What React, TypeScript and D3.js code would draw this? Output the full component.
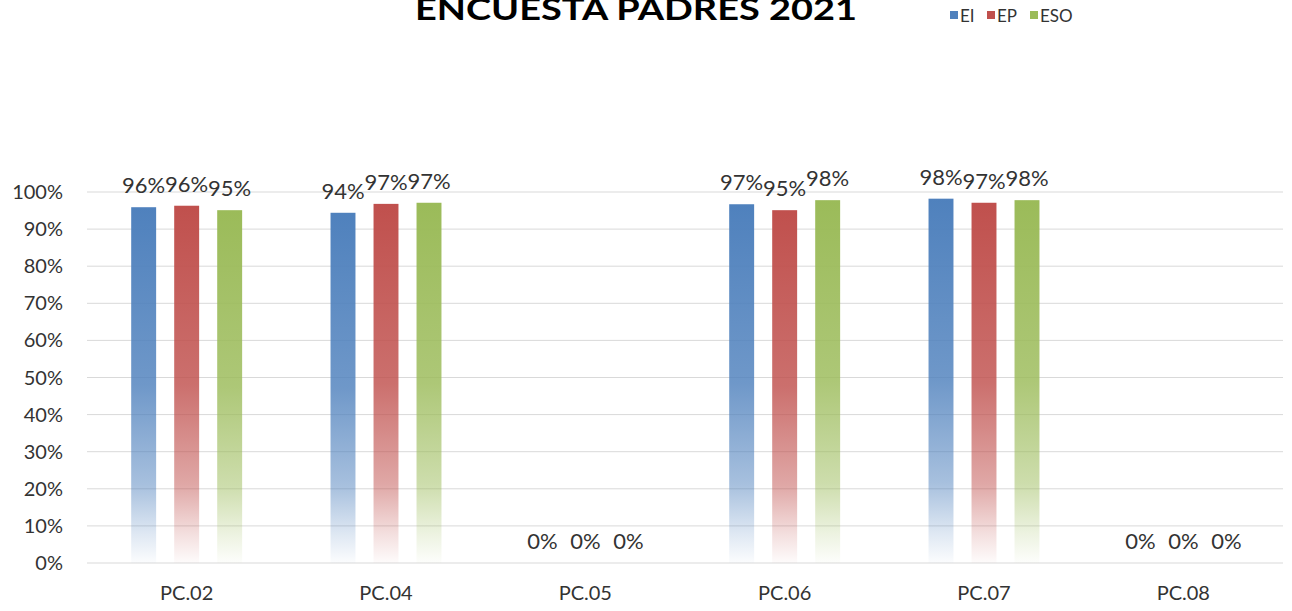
import React from 'react';
import * as d3 from 'd3';

const categories = ['PC.02', 'PC.04', 'PC.05', 'PC.06', 'PC.07', 'PC.08'];
const seriesNames = ['EI', 'EP', 'ESO'];
const eiValues = [0.959, 0.944, 0, 0.967, 0.982, 0];
const epValues = [0.963, 0.968, 0, 0.951, 0.971, 0];
const esoValues = [0.951, 0.971, 0, 0.978, 0.978, 0];
const colors = ['#4f81bd', '#c0504d', '#9bbb59'];
const yTicks = [0, 0.1, 0.2, 0.3, 0.4, 0.5, 0.6, 0.7, 0.8, 0.9, 1];

const width = 1292;
const height = 611;
const margin = { top: 192, right: 9, bottom: 48, left: 87 };
const font = 'Lato, "Open Sans", sans-serif';

const App = () => {
  const seriesValues = [eiValues, epValues, esoValues];

  const x0 = d3
    .scaleBand<string>()
    .domain(categories)
    .range([margin.left, width - margin.right]);

  const x1 = d3
    .scaleBand<string>()
    .domain(seriesNames)
    .range([-64.5, 64.5])
    .paddingInner(0.42)
    .paddingOuter(0.21);

  const y = d3
    .scaleLinear()
    .domain([0, 1])
    .range([height - margin.bottom, margin.top]);

  const pct = d3.format('.0%');

  return (
    <svg
      width={width}
      height={height}
      style={{ position: 'absolute', left: 0, top: 0, background: '#fff' }}
    >
      <defs>
        {colors.map((c, i) => (
          <linearGradient key={i} id={`grad${i}`} x1="0" y1="0" x2="0" y2="1">
            <stop offset="0%" stopColor={c} stopOpacity={1} />
            <stop offset="50%" stopColor={c} stopOpacity={0.82} />
            <stop offset="78%" stopColor={c} stopOpacity={0.5} />
            <stop offset="92%" stopColor={c} stopOpacity={0.18} />
            <stop offset="100%" stopColor={c} stopOpacity={0.02} />
          </linearGradient>
        ))}
      </defs>

      {/* title, cut off by the top edge like the original */}
      <text
        x={636}
        y={20}
        textAnchor="middle"
        fontFamily={font}
        fontWeight="bold"
        fontSize={31}
        fill="#000"
        textLength={442}
        lengthAdjust="spacingAndGlyphs"
      >
        ENCUESTA PADRES 2021
      </text>

      {/* legend */}
      {seriesNames.map((s, i) => {
        const lx = [950, 987, 1030][i];
        return (
          <g key={s}>
            <rect x={lx} y={11} width={8} height={8} fill={colors[i]} />
            <text x={lx + 10} y={22} fontFamily={font} fontSize={17} fill="#333">
              {s}
            </text>
          </g>
        );
      })}

      {/* gridlines and y labels */}
      {yTicks.map((t) => (
        <g key={t}>
          <line
            x1={margin.left}
            x2={width - margin.right}
            y1={y(t)}
            y2={y(t)}
            stroke="#d9d9d9"
            strokeWidth={1}
          />
          <text
            x={63}
            y={y(t)}
            dy="0.35em"
            textAnchor="end"
            fontFamily={font}
            fontSize={20}
            fill="#333"
          >
            {pct(t)}
          </text>
        </g>
      ))}

      {/* bars */}
      {categories.map((cat, ci) => (
        <g key={cat} transform={`translate(${x0(cat)! + x0.bandwidth() / 2},0)`}>
          {seriesNames.map((s, si) => {
            const v = seriesValues[si][ci];
            const bx = x1(s)!;
            return (
              <g key={s}>
                {v > 0 && (
                  <rect
                    x={bx}
                    y={y(v)}
                    width={x1.bandwidth()}
                    height={y(0) - y(v)}
                    fill={`url(#grad${si})`}
                  />
                )}
                <text
                  x={bx + x1.bandwidth() / 2}
                  y={y(v) - 14}
                  textAnchor="middle"
                  fontFamily={font}
                  fontSize={22}
                  fill="#333"
                >
                  {pct(v)}
                </text>
              </g>
            );
          })}
        </g>
      ))}

      {/* category labels */}
      {categories.map((cat) => (
        <text
          key={cat}
          x={x0(cat)! + x0.bandwidth() / 2}
          y={600}
          textAnchor="middle"
          fontFamily={font}
          fontSize={20}
          fill="#333"
        >
          {cat}
        </text>
      ))}
    </svg>
  );
};

export default App;
